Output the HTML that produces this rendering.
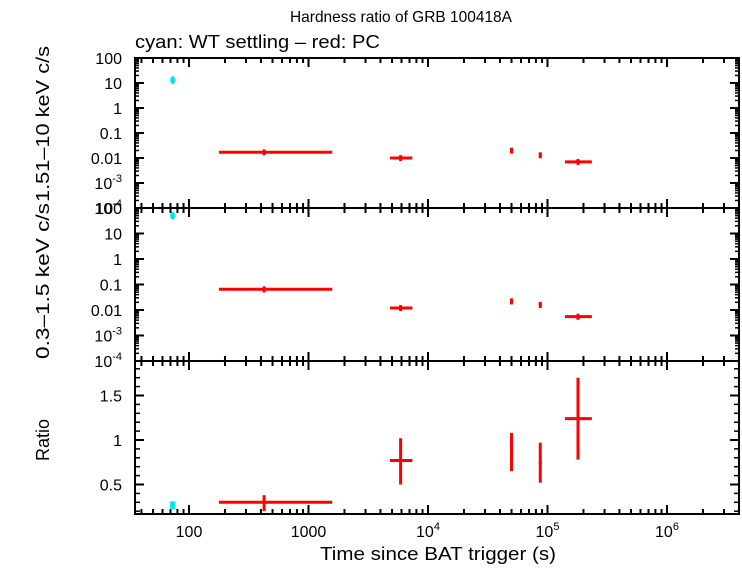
<!DOCTYPE html>
<html><head><meta charset="utf-8"><style>
body{margin:0;background:#fff}
svg{font-family:"Liberation Sans",sans-serif;font-size:16px}
.at{font-size:18px}
</style></head><body>
<svg id="c" width="742" height="566" viewBox="0 0 742 566">
<text x="401" y="22" text-anchor="middle" textLength="222" lengthAdjust="spacingAndGlyphs">Hardness ratio of GRB 100418A</text>
<text x="135" y="48" class="at" textLength="245" lengthAdjust="spacingAndGlyphs">cyan: WT settling – red: PC</text>
<text x="438" y="560" class="at" text-anchor="middle" textLength="236" lengthAdjust="spacingAndGlyphs">Time since BAT trigger (s)</text>
<text transform="translate(49,124) rotate(-90)" class="at" text-anchor="middle" textLength="156" lengthAdjust="spacingAndGlyphs">1.51–10 keV c/s</text>
<text transform="translate(49,281) rotate(-90)" class="at" text-anchor="middle" textLength="156" lengthAdjust="spacingAndGlyphs">0.3–1.5 keV c/s</text>
<text transform="translate(49,440) rotate(-90)" class="at" text-anchor="middle">Ratio</text>
<g id="g"></g>
</svg>
<script>
const wtT=[73];
const wtHard=[13];
const wtSoft=[50];
const wtRatio=[0.26];const wtRatioLo=[0.22];const wtRatioHi=[0.31];
const pcT=[425,5900,50000,87000,180000];
const pcTLo=[178,4800,50000,87000,140000];
const pcTHi=[1580,7400,50000,87000,235000];
const pcHard=[0.017,0.01,0.02,0.013,0.007];
const pcSoft=[0.065,0.012,0.022,0.016,0.0055];
const pcRatio=[0.3,0.77,0.87,0.74,1.24];
const pcRatioLo=[0.2,0.5,0.65,0.52,0.78];
const pcRatioHi=[0.38,1.02,1.08,0.97,1.7];
const xTicks=[100,1000,1e4,1e5,1e6];
const xTickLabels=["100","1000","10^4","10^5","10^6"];
const logTicks=[100,10,1,0.1,0.01,1e-3,1e-4];
const logTickLabels=["100","10","1","0.1","0.01","10^-3","10^-4"];
const ratioTicks=[0.5,1,1.5];
const ratioTickLabels=["0.5","1","1.5"];

const NS="http://www.w3.org/2000/svg",G=document.getElementById('g');
const L=135,R=739;
const X=v=>189+(Math.log10(v)-2)*119.5;
function mk(t,a){const e=document.createElementNS(NS,t);for(const k in a)e.setAttribute(k,a[k]);G.appendChild(e);return e;}
function line(x1,y1,x2,y2,c,w){const e=mk('line',{x1,y1,x2,y2,stroke:c,'stroke-width':w});return e;}
function lbl(x,y,s,anchor){const e=mk('text',{x,y,'text-anchor':anchor});
 const m=s.match(/^(.*)\^(.*)$/);if(m){e.textContent=m[1];const t=document.createElementNS(NS,'tspan');t.setAttribute('dy','-7');t.setAttribute('font-size','11');t.textContent=m[2];e.appendChild(t);}else e.textContent=s;return e;}
const panels=[
 {top:58,bot:208,Y:v=>58+(2-Math.log10(v))*(150/6),log:true,name:'hard'},
 {top:208,bot:361,Y:v=>208+(2-Math.log10(v))*(153/6),log:true,name:'soft'},
 {top:361,bot:514,Y:v=>440-(v-1)*89,log:false,name:'ratio'}];
panels.forEach((p,pi)=>{
 const r=mk('rect',{x:L,y:p.top,width:R-L,height:p.bot-p.top,fill:'none',stroke:'#000','stroke-width':2});
 
 for(let d=1;d<=6;d++)for(let m=1;m<10;m++){const v=m*Math.pow(10,d),x=X(v);if(x<L||x>R)continue;const len=m==1?9:5;
  line(x,p.top,x,p.top+len,'#000',2);line(x,p.bot,x,p.bot-len,'#000',2);}
 if(p.log){logTicks.forEach((v,i)=>{const y=p.Y(v);line(L,y,L+9,y,'#000',2);line(R,y,R-9,y,'#000',2);
   for(let m=2;m<10&&i>0;m++){const yy=p.Y(v*m);line(L,yy,L+4,yy,'#000',1.5);line(R,yy,R-4,yy,'#000',1.5);}
   const t=lbl(122,y+6,logTickLabels[i],'end');});}
 else{ratioTicks.forEach((v,i)=>{const y=p.Y(v);line(L,y,L+9,y,'#000',2);line(R,y,R-9,y,'#000',2);
   const t=lbl(122,y+6,ratioTickLabels[i],'end');});
  for(let v=0.2;v<1.9;v+=0.1){const y=p.Y(v);if(y<p.top||y>p.bot)continue;line(L,y,L+5,y,'#000',1.5);line(R,y,R-5,y,'#000',1.5);}
  xTicks.forEach((v,i)=>{const t=lbl(X(v),537,xTickLabels[i],'middle');});}
});
function pt(x,y,c){const e=mk('ellipse',{cx:x,cy:y,rx:2.5,ry:4,fill:c});}
pt(X(wtT[0]),panels[0].Y(wtHard[0]),'#00e5ee');
pt(X(wtT[0]),panels[1].Y(wtSoft[0]),'#00e5ee');
{const p=panels[2],x=X(wtT[0]);line(x,p.Y(wtRatioLo[0]),x,p.Y(wtRatioHi[0]),'#00e5ee',5);}
pcT.forEach((t,i)=>{
 [[0,pcHard[i],pcHard[i]*0.75,pcHard[i]*1.3],[1,pcSoft[i],pcSoft[i]*0.75,pcSoft[i]*1.3],[2,pcRatio[i],pcRatioLo[i],pcRatioHi[i]]].forEach(([pi,v,lo,hi])=>{
  const p=panels[pi],x=X(t),y=p.Y(v);
  const h=line(X(pcTLo[i])-(pcTLo[i]===pcTHi[i]?1.5:0),y,X(pcTHi[i])+(pcTLo[i]===pcTHi[i]?1.5:0),y,'#f00',3);
  const e=line(x,p.Y(lo),x,p.Y(hi),'#f00',3);
 });
});
</script>
</body></html>
